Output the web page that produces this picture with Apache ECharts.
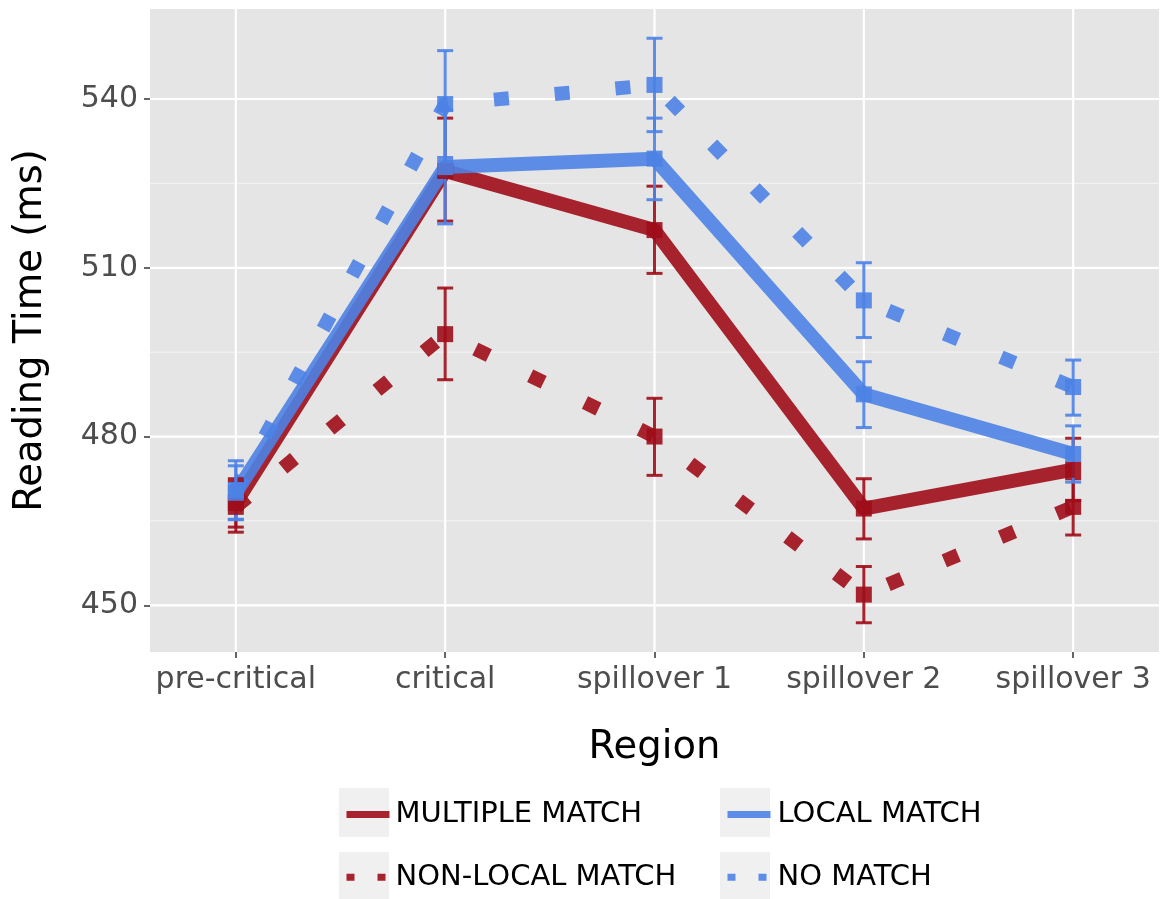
<!DOCTYPE html>
<html>
<head>
<meta charset="utf-8">
<script src="https://cdn.jsdelivr.net/npm/echarts@6/dist/echarts.min.js"></script>
<style>
  html, body { margin: 0; padding: 0; background: #fff; }
  #chart { width: 1166px; height: 899px; }
</style>
</head>
<body>
<div id="chart"></div>
<script>
// ---------- data ----------
const regions = ['pre-critical', 'critical', 'spillover 1', 'spillover 2', 'spillover 3'];
const seriesNames = ['MULTIPLE MATCH', 'LOCAL MATCH', 'NON-LOCAL MATCH', 'NO MATCH'];

const multipleMean = [468.2, 527.2, 516.7, 467.2, 474.1];
const multipleLow  = [463.9, 518.3, 509.0, 461.8, 468.6];
const multipleHigh = [472.5, 536.6, 524.5, 472.5, 479.7];

const nonLocalMean = [467.5, 498.2, 480.0, 451.9, 467.5];
const nonLocalLow  = [463.0, 490.1, 473.1, 446.9, 462.5];
const nonLocalHigh = [472.0, 506.4, 486.8, 456.9, 472.5];

const localMean = [470.0, 527.9, 529.4, 487.5, 476.9];
const localLow  = [465.2, 517.8, 522.1, 481.6, 471.9];
const localHigh = [474.8, 538.0, 536.6, 493.3, 481.9];

const noMatchMean = [470.5, 539.1, 542.5, 504.2, 488.8];
const noMatchLow  = [465.3, 529.6, 534.2, 497.6, 483.8];
const noMatchHigh = [475.7, 548.6, 550.8, 510.9, 493.6];

const yTicks = [450, 480, 510, 540];
const yMinorTicks = [465, 495, 525];
const xTicks = [0, 1, 2, 3, 4];

// ---------- styling ----------
const RED = 'rgb(158,13,25)';
const BLUE = 'rgb(76,130,230)';
const ALPHA = 0.9;
const FONT = '"DejaVu Sans", "Liberation Sans", Arial, sans-serif';
const LINE_W = 14;
const DOT = [15, 46];

const groups = [
  { name: 'MULTIPLE MATCH', mean: multipleMean, low: multipleLow, high: multipleHigh, color: RED, dotted: false },
  { name: 'NON-LOCAL MATCH', mean: nonLocalMean, low: nonLocalLow, high: nonLocalHigh, color: RED, dotted: true },
  { name: 'LOCAL MATCH', mean: localMean, low: localLow, high: localHigh, color: BLUE, dotted: false },
  { name: 'NO MATCH', mean: noMatchMean, low: noMatchLow, high: noMatchHigh, color: BLUE, dotted: true }
];

const chart = echarts.init(document.getElementById('chart'), null, { renderer: 'canvas' });

function gridLineSeries(values, isY, width, color) {
  return {
    type: 'custom',
    silent: true,
    z: 1,
    animation: false,
    data: values.map(v => isY ? [0, v] : [v, 450]),
    renderItem: function (params, api) {
      const cs = params.coordSys;
      const p = api.coord([api.value(0), api.value(1)]);
      const shape = isY
        ? { x1: cs.x, y1: p[1], x2: cs.x + cs.width, y2: p[1] }
        : { x1: p[0], y1: cs.y, x2: p[0], y2: cs.y + cs.height };
      return { type: 'line', shape: shape, style: { stroke: color, lineWidth: width } };
    }
  };
}

const series = [];
series.push(gridLineSeries(yMinorTicks, true, 1.2, '#f2f2f2'));
series.push(gridLineSeries(yTicks, true, 2.2, '#ffffff'));
series.push(gridLineSeries(xTicks, false, 2.2, '#ffffff'));

// lines
groups.forEach(g => {
  series.push({
    name: g.name,
    type: 'line',
    z: 3,
    symbol: 'none',
    animation: false,
    color: g.color,
    data: g.mean.map((v, i) => [i, v]),
    lineStyle: {
      color: g.color, width: LINE_W, opacity: ALPHA,
      type: g.dotted ? DOT : 'solid', cap: 'butt', join: 'round'
    }
  });
});

// error bars
groups.forEach(g => {
  series.push({
    name: g.name + ' err',
    type: 'custom',
    z: 4,
    animation: false,
    data: g.mean.map((v, i) => [i, g.low[i], g.high[i]]),
    renderItem: function (params, api) {
      const x = api.value(0);
      const lo = api.coord([x, api.value(1)]);
      const hi = api.coord([x, api.value(2)]);
      const hw = 8;
      const st = { stroke: g.color, lineWidth: 3, opacity: ALPHA };
      return {
        type: 'group',
        children: [
          { type: 'line', shape: { x1: lo[0], y1: lo[1], x2: hi[0], y2: hi[1] }, style: st },
          { type: 'line', shape: { x1: lo[0] - hw, y1: lo[1], x2: lo[0] + hw, y2: lo[1] }, style: st },
          { type: 'line', shape: { x1: hi[0] - hw, y1: hi[1], x2: hi[0] + hw, y2: hi[1] }, style: st }
        ]
      };
    }
  });
});

// points
groups.forEach(g => {
  series.push({
    name: g.name + ' pts',
    type: 'scatter',
    z: 5,
    animation: false,
    symbol: 'rect',
    symbolSize: 16,
    data: g.mean.map((v, i) => [i, v]),
    itemStyle: { color: g.color, opacity: ALPHA }
  });
});

function legendItem(name, dotted) {
  return {
    name: name,
    itemStyle: { opacity: 0 },
    lineStyle: { width: 7, type: dotted ? [8, 23] : 'solid', cap: 'butt' }
  };
}

const legendCommon = {
  orient: 'vertical',
  top: 796,
  padding: 0,
  itemWidth: 43,
  itemHeight: 46,
  itemGap: 26,
  selectedMode: false,
  textStyle: { fontSize: 29, color: '#000', fontFamily: FONT }
};

const option = {
  backgroundColor: '#ffffff',
  animation: false,
  grid: {
    left: 150, right: 7, top: 9, bottom: 247,
    show: true, backgroundColor: '#e5e5e5', borderWidth: 0,
    containLabel: false, outerBoundsMode: 'none'
  },
  xAxis: {
    type: 'value',
    min: -0.41, max: 4.41,
    name: 'Region',
    nameLocation: 'middle',
    nameGap: 76,
    nameTextStyle: { fontSize: 38.5, color: '#000', fontFamily: FONT },
    axisLine: { show: false, onZero: false },
    axisTick: { show: true, customValues: xTicks, length: 6, lineStyle: { color: '#333', width: 1.5 } },
    axisLabel: {
      customValues: xTicks, margin: 13, fontSize: 30, color: '#4d4d4d', fontFamily: FONT,
      formatter: v => regions[Math.round(v)]
    },
    splitLine: { show: false }
  },
  yAxis: {
    type: 'value',
    min: 441.7, max: 556.0,
    name: 'Reading Time (ms)',
    nameLocation: 'middle',
    nameGap: 100,
    nameTextStyle: { fontSize: 38.5, color: '#000', fontFamily: FONT },
    axisLine: { show: false, onZero: false },
    axisTick: { show: true, customValues: yTicks, length: 6, lineStyle: { color: '#333', width: 1.5 } },
    axisLabel: { customValues: yTicks, margin: 12, fontSize: 30, color: '#4d4d4d', fontFamily: FONT },
    splitLine: { show: false }
  },
  legend: [
    Object.assign({}, legendCommon, {
      left: 343,
      data: [legendItem('MULTIPLE MATCH', false), legendItem('NON-LOCAL MATCH', true)],
      textStyle: Object.assign({}, legendCommon.textStyle, { padding: [0, 0, 0, 1] })
    }),
    Object.assign({}, legendCommon, {
      left: 724,
      data: [legendItem('LOCAL MATCH', false), legendItem('NO MATCH', true)],
      textStyle: Object.assign({}, legendCommon.textStyle, { padding: [0, 0, 0, 2] })
    })
  ],
  graphic: [
    { type: 'rect', z: 0, shape: { x: 339, y: 788, width: 50, height: 49 }, style: { fill: '#f0f0f0' } },
    { type: 'rect', z: 0, shape: { x: 339, y: 852, width: 50, height: 49 }, style: { fill: '#f0f0f0' } },
    { type: 'rect', z: 0, shape: { x: 720, y: 788, width: 50, height: 49 }, style: { fill: '#f0f0f0' } },
    { type: 'rect', z: 0, shape: { x: 720, y: 852, width: 50, height: 49 }, style: { fill: '#f0f0f0' } }
  ],
  series: series
};

chart.setOption(option);
</script>
</body>
</html>
